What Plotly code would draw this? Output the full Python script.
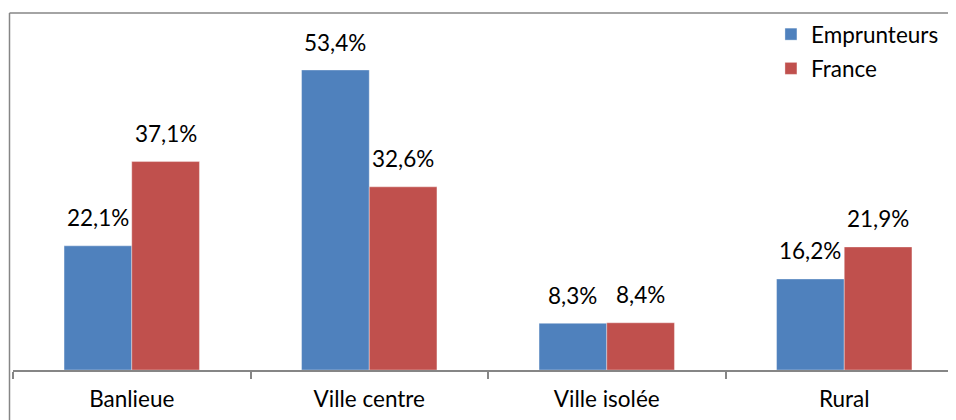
import plotly.graph_objects as go

categories = ["Banlieue", "Ville centre", "Ville isolée", "Rural"]
emprunteurs = [22.1, 53.4, 8.3, 16.2]
france = [37.1, 32.6, 8.4, 21.9]
series_names = ["Emprunteurs", "France"]
colors = ["#4F81BD", "#C0504D"]

FONT = "Lato"
FS = 22.5

def fmt(v):
    return f"{v:.1f}".replace(".", ",") + "%"

fig = go.Figure()
for name, vals, col in zip(series_names, [emprunteurs, france], colors):
    fig.add_trace(go.Bar(
        x=categories, y=vals, name=name, legendgroup=name,
        marker=dict(color=col, line=dict(color="rgba(255,255,255,0.35)", width=1)),
        hoverinfo="skip",
    ))

annotations = []
for vals, shift in [(emprunteurs, -34), (france, 34)]:
    for c, v in zip(categories, vals):
        annotations.append(dict(
            x=c, y=v, xref="x", yref="y", text=fmt(v), showarrow=False,
            xshift=shift, yshift=28, yanchor="middle",
            font=dict(family=FONT, size=FS, color="#000000"),
        ))

# the page body adds an 8px offset, so layout positions are shifted by -8
OFF = 8
W, H = 956, 420
L, T = 13 - OFF, 13 - OFF
axis_y = 370 - OFF
B = H - axis_y
plot_w = W - L
plot_h = axis_y - T
px_per_cat = 237.5
x_end = -0.5 + plot_w / px_per_cat
y_max = plot_h / (300 / 53.4)

bx = (9.5 - OFF - L) / plot_w
shapes = [
    dict(type="line", xref="paper", yref="paper", x0=bx, x1=bx, y0=-0.3, y1=1.0,
         line=dict(color="#868686", width=1.5)),
    dict(type="line", xref="paper", yref="paper", x0=bx, x1=1.05, y0=1.0, y1=1.0,
         line=dict(color="#868686", width=1.5)),
]

fig.update_layout(
    width=W, height=H,
    margin=dict(l=L, r=0, t=T, b=B, pad=0),
    paper_bgcolor="white", plot_bgcolor="white",
    barmode="group", bargap=0.43, bargroupgap=0,
    font=dict(family=FONT, size=FS, color="#000000"),
    showlegend=True,
    legend=dict(x=0.797, y=1.0, xanchor="left", yanchor="top",
                bgcolor="rgba(0,0,0,0)", tracegroupgap=2,
                font=dict(family=FONT, size=FS, color="#000000")),
    annotations=annotations,
    shapes=shapes,
    xaxis=dict(type="category", range=[-0.5, x_end], showgrid=False,
               showline=True, linecolor="#868686", linewidth=1.5,
               ticks="outside", tickson="boundaries", ticklen=7,
               tickcolor="#868686", tickwidth=1.5, ticklabelstandoff=8,
               tickfont=dict(family=FONT, size=FS, color="#000000"),
               zeroline=False, fixedrange=True, automargin=False),
    yaxis=dict(range=[0, y_max], visible=False, showgrid=False, zeroline=False),
)

fig.write_html("out.html")
